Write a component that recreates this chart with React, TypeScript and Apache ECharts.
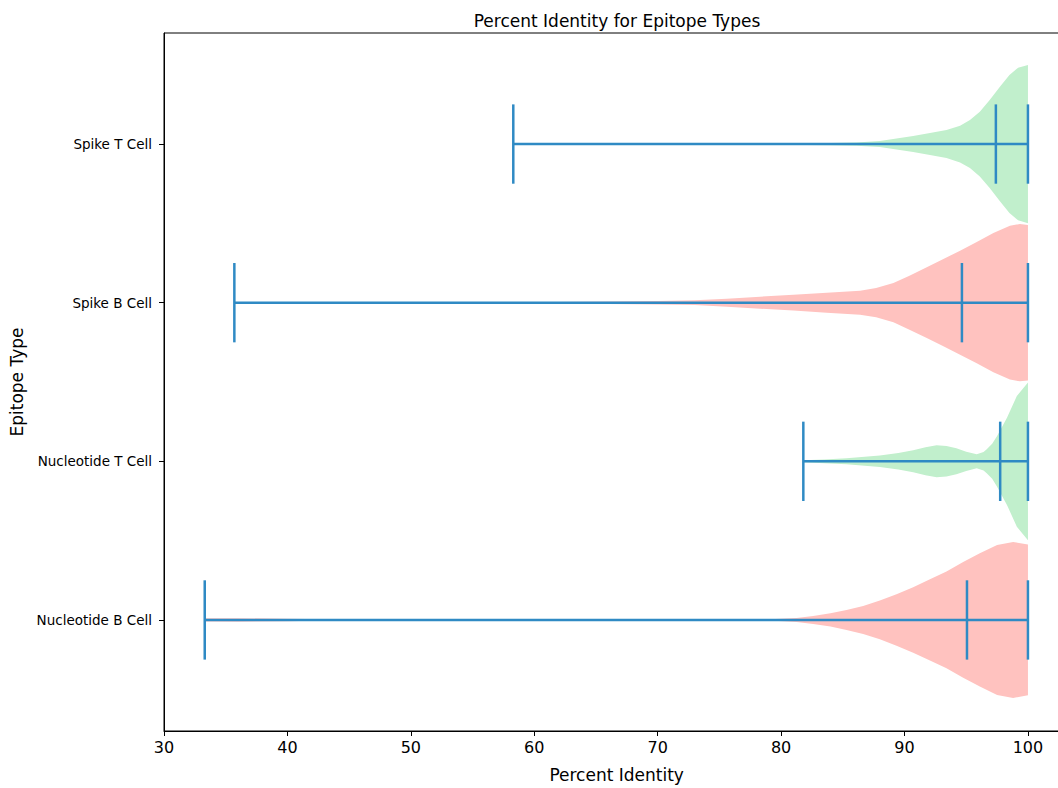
import React, { useEffect, useRef } from "react";
import * as echarts from "echarts";

// positions 1..4 from bottom to top
const categoryNames = ["Nucleotide B Cell", "Nucleotide T Cell", "Spike B Cell", "Spike T Cell"];
const categoryPositions = [1, 2, 3, 4];
const xTicks = [30, 40, 50, 60, 70, 80, 90, 100];

// Violin outlines: x value and half-width (in category units)
const spikeTX = [58.3, 70, 80, 84, 86.1, 88.0, 90.7, 92.06, 93.4, 94.5, 95.3, 96.1, 96.9, 97.73, 98.5, 99.2, 100];
const spikeTW = [0.001, 0.002, 0.004, 0.007, 0.01, 0.019, 0.05, 0.069, 0.088, 0.116, 0.151, 0.204, 0.277, 0.361, 0.435, 0.481, 0.499];

const spikeBX = [35.7, 45, 55, 62, 66, 70, 73, 75.6, 78.3, 81.0, 83.7, 86.4, 87.7, 89.1, 90.4, 91.8, 93.15, 94.5, 95.85, 97.2, 98.54, 99.35, 100];
const spikeBW = [0.001, 0.001, 0.002, 0.004, 0.008, 0.011, 0.015, 0.025, 0.038, 0.05, 0.063, 0.076, 0.092, 0.124, 0.17, 0.223, 0.275, 0.328, 0.382, 0.439, 0.485, 0.496, 0.49];

const nucTX = [81.8, 83.5, 85.3, 88.0, 89.5, 90.7, 91.7, 92.6, 93.4, 94.2, 95.0, 95.85, 96.4, 96.66, 97.1, 97.5, 98.3, 99.1, 100];
const nucTW = [0.006, 0.012, 0.019, 0.036, 0.052, 0.069, 0.088, 0.101, 0.096, 0.082, 0.061, 0.044, 0.058, 0.076, 0.11, 0.16, 0.275, 0.412, 0.497];

const nucBX = [33.3, 36, 40, 43, 50, 65, 75, 79.1, 81.25, 82.6, 84.0, 85.3, 86.65, 88.0, 89.35, 90.7, 92.06, 93.4, 94.75, 96.1, 97.5, 98.8, 100];
const nucBW = [0.01, 0.011, 0.008, 0.004, 0.002, 0.001, 0.002, 0.004, 0.013, 0.025, 0.042, 0.063, 0.088, 0.122, 0.162, 0.206, 0.256, 0.305, 0.365, 0.42, 0.473, 0.492, 0.475];

// Summary statistics per position (Spike T, Spike B, Nucleotide T, Nucleotide B)
const statPositions = [4, 3, 2, 1];
const statMins = [58.3, 35.7, 81.8, 33.3];
const statMedians = [97.4, 94.65, 97.75, 95.06];
const statMaxs = [100, 100, 100, 100];

const GREEN = "#c1efcc";
const PINK = "#ffc2bf";
const BLUE = "#2f8ac4";
const FONT = "DejaVu Sans";

export default function App() {
  const ref = useRef<HTMLDivElement>(null);
  useEffect(() => {
    if (!ref.current) return;
    const chart = echarts.init(ref.current, undefined, { renderer: "svg" });
    const violins = [
      { pos: 4, xs: spikeTX, ws: spikeTW, color: GREEN },
      { pos: 3, xs: spikeBX, ws: spikeBW, color: PINK },
      { pos: 2, xs: nucTX, ws: nucTW, color: GREEN },
      { pos: 1, xs: nucBX, ws: nucBW, color: PINK },
    ];
    const option: any = {
      animation: false,
      backgroundColor: "#fff",
      textStyle: { fontFamily: FONT },
      title: {
        text: "Percent Identity for Epitope Types",
        left: 612,
        top: 7,
        textAlign: "center",
        textStyle: { fontFamily: FONT, fontSize: 17, fontWeight: "normal", color: "#000" },
      },
      grid: {
        left: 164,
        top: 33,
        right: 10.7,
        bottom: 57,
        show: true,
        borderColor: "#000",
        borderWidth: 1,
        backgroundColor: "transparent",
      },
      xAxis: {
        type: "value",
        min: 30,
        max: 103.35,
        name: "Percent Identity",
        nameLocation: "middle",
        nameGap: 35,
        nameTextStyle: { fontFamily: FONT, fontSize: 17, color: "#000" },
        splitLine: { show: false },
        axisLine: { show: true, onZero: false, lineStyle: { color: "#000", width: 1 } },
        axisTick: { show: true, length: 5, customValues: xTicks, lineStyle: { color: "#000" } },
        axisLabel: { customValues: xTicks, fontFamily: FONT, fontSize: 16, color: "#000", margin: 8 },
      },
      yAxis: {
        type: "value",
        min: 0.3,
        max: 4.7,
        name: "Epitope Type",
        nameLocation: "middle",
        nameGap: 134,
        nameTextStyle: { fontFamily: FONT, fontSize: 17, color: "#000" },
        splitLine: { show: false },
        axisLine: { show: true, onZero: false, lineStyle: { color: "#000", width: 1 } },
        axisTick: { show: true, length: 5, customValues: categoryPositions, lineStyle: { color: "#000" } },
        axisLabel: {
          customValues: categoryPositions,
          fontFamily: FONT,
          fontSize: 13.5,
          color: "#000",
          margin: 12,
          formatter: (v: number) => categoryNames[Math.round(v) - 1] ?? "",
        },
      },
      series: [
        {
          type: "custom",
          clip: true,
          encode: { x: 0, y: 1 },
          data: violins.map((v, i) => [v.xs[v.xs.length - 1], v.pos, i]),
          renderItem: (_params: any, api: any) => {
            const v = violins[api.value(2)];
            const pts: number[][] = [];
            for (let k = 0; k < v.xs.length; k++) pts.push(api.coord([v.xs[k], v.pos + v.ws[k]]));
            for (let k = v.xs.length - 1; k >= 0; k--) pts.push(api.coord([v.xs[k], v.pos - v.ws[k]]));
            return { type: "polygon", shape: { points: pts }, style: { fill: v.color } };
          },
          z: 1,
        },
        {
          type: "custom",
          clip: true,
          encode: { x: 0, y: 1 },
          data: statPositions.map((p, i) => [statMins[i], p, statMedians[i], statMaxs[i]]),
          renderItem: (_params: any, api: any) => {
            const pos = api.value(1);
            const mn = api.coord([api.value(0), pos]);
            const md = api.coord([api.value(2), pos]);
            const mx = api.coord([api.value(3), pos]);
            const h = api.size([0, 0.25])[1];
            const st = { stroke: BLUE, lineWidth: 2.5 };
            const vline = (p: number[]) => ({
              type: "line",
              shape: { x1: p[0], y1: p[1] - h, x2: p[0], y2: p[1] + h },
              style: st,
            });
            return {
              type: "group",
              children: [
                { type: "line", shape: { x1: mn[0], y1: mn[1], x2: mx[0], y2: mx[1] }, style: st },
                vline(mn),
                vline(md),
                vline(mx),
              ],
            };
          },
          z: 2,
        },
      ],
    };
    chart.setOption(option);
    return () => chart.dispose();
  }, []);
  return (
    <div style={{ position: "fixed", left: 0, top: 0, width: 1058, height: 788, overflow: "hidden", background: "#fff" }}>
      <div ref={ref} style={{ width: 1080, height: 788 }} />
    </div>
  );
}
